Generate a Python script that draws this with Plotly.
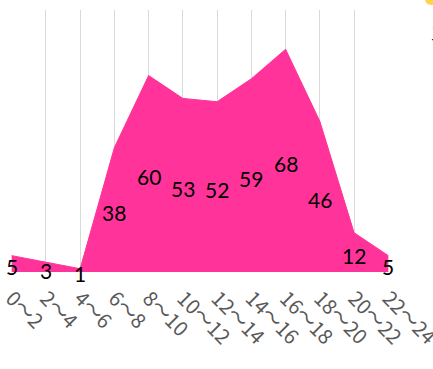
import plotly.graph_objects as go

categories = ["0〜2", "2〜4", "4〜6", "6〜8", "8〜10", "10〜12", "12〜14",
              "14〜16", "16〜18", "18〜20", "20〜22", "22〜24"]
values = [5, 3, 1, 38, 60, 53, 52, 59, 68, 46, 12, 5]

PINK = "#FF3399"

fig = go.Figure()
fig.add_trace(go.Scatter(
    x=categories, y=values, mode="lines", fill="tozeroy",
    fillcolor=PINK, line=dict(color=PINK, width=1), hoverinfo="skip",
    showlegend=False,
))

# data labels at the centre of the area (Excel "center" position)
for c, v in zip(categories, values):
    fig.add_annotation(
        x=c, y=v / 2, text=str(v), showarrow=False, yshift=-3,
        xanchor="center", yanchor="middle",
        font=dict(family="Lato", size=21, color="#000000"),
    )

fig.update_layout(
    width=433, height=369,
    margin=dict(l=11, r=44, t=10, b=97, autoexpand=False),
    paper_bgcolor="white", plot_bgcolor="white",
    xaxis=dict(
        type="category", range=[-0.02, 11.02], showgrid=True, gridcolor="#D9D9D9",
        gridwidth=1, tickangle=45, showline=False, zeroline=False, ticks="",
        automargin=False, ticklabelstandoff=10,
        tickfont=dict(family="Noto Sans CJK JP", size=20, color="#595959"),
    ),
    yaxis=dict(range=[0, 80], showgrid=False, showticklabels=False,
               zeroline=False, showline=False, ticks="", automargin=False),
)

# clipped neighbouring legend fragment at the top-right corner
fig.add_shape(type="circle", xref="paper", yref="paper",
              x0=(425 - 11) / 378, x1=(437 - 11) / 378,
              y0=(272 + 7) / 262, y1=(272 - 5) / 262,
              fillcolor="#FFD34D", line=dict(width=0), layer="above")
fig.add_annotation(text="三", xref="paper", yref="paper",
                   x=(429 - 11) / 378, y=(272 - 32) / 262,
                   xanchor="left", yanchor="middle", showarrow=False,
                   font=dict(family="Noto Sans CJK JP", size=17, color="#000000"))

fig.write_html("out.html")
